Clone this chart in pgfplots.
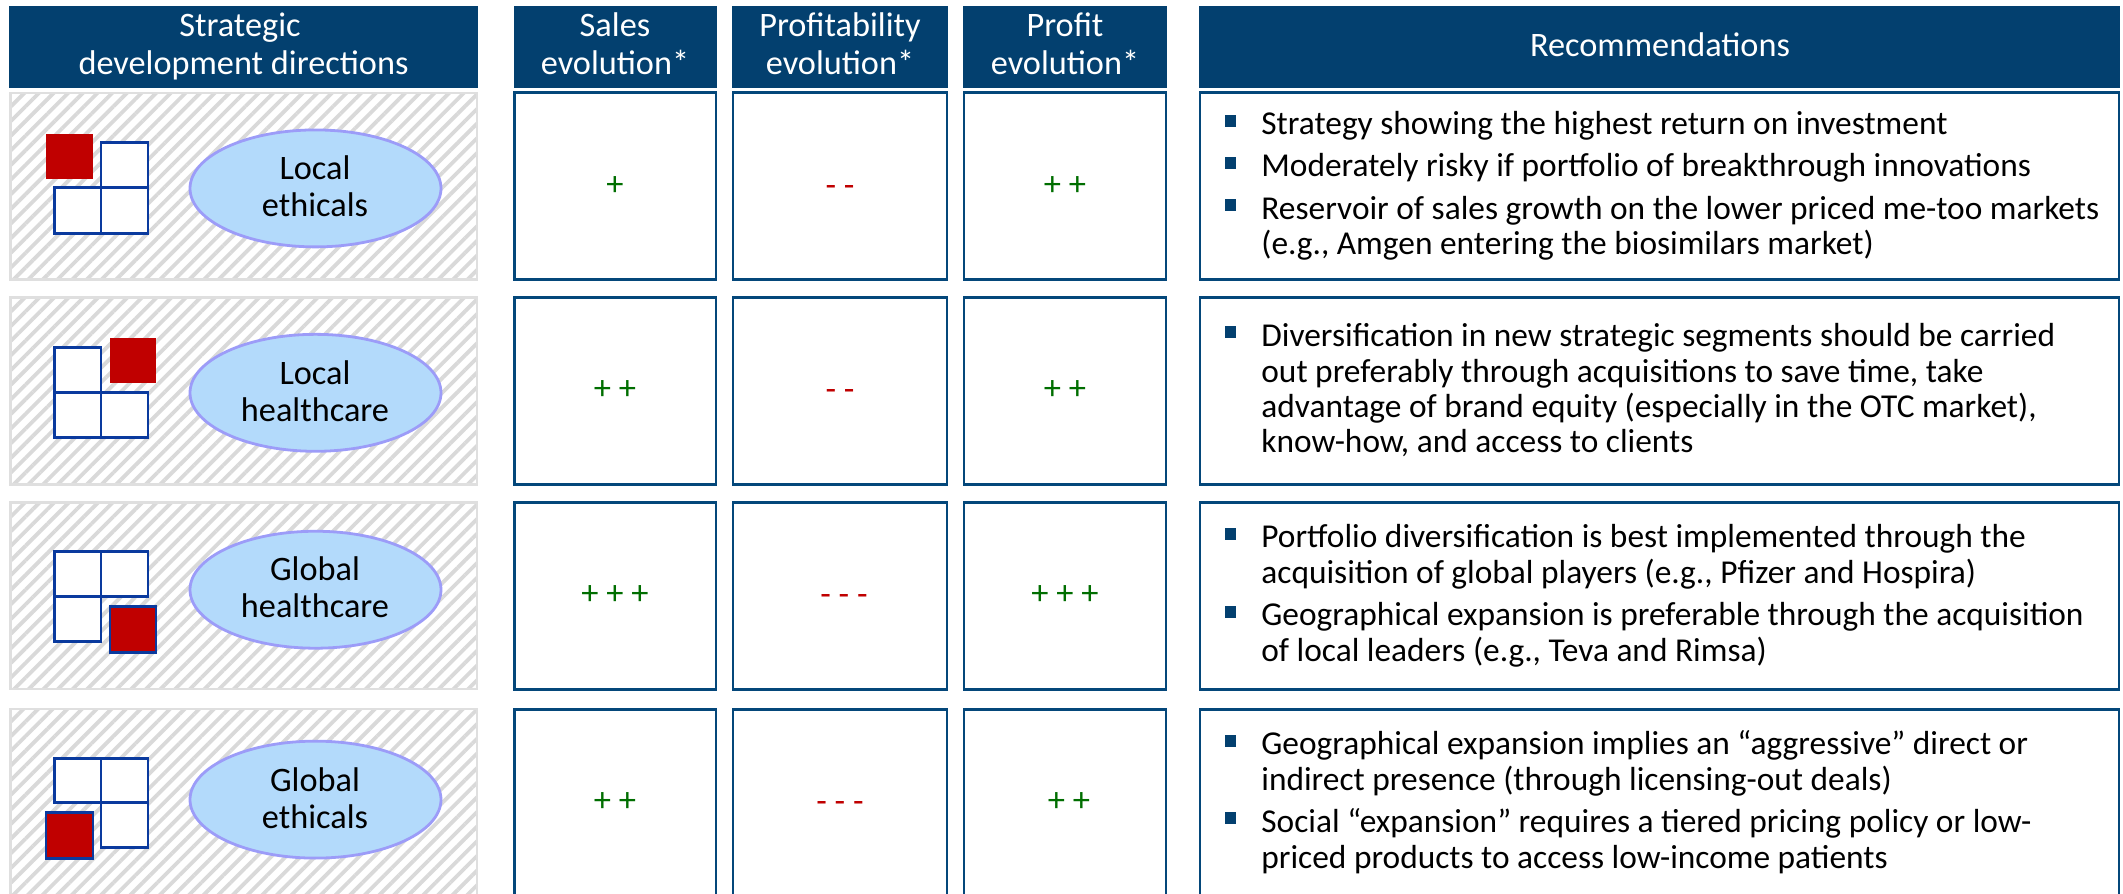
\documentclass[border=0pt]{standalone}
\usepackage{fontspec}
\setmainfont{Carlito}
\usepackage{pgfplots}
\pgfplotsset{compat=1.18}
\usetikzlibrary{patterns.meta}
\definecolor{hdr}{HTML}{03406F}
\definecolor{bx}{HTML}{04477A}
\definecolor{gridb}{HTML}{0A3A9E}
\definecolor{redq}{HTML}{C00000}
\definecolor{plusg}{HTML}{006E00}
\definecolor{ellf}{HTML}{B3DAFB}
\definecolor{elld}{HTML}{9C9CF8}
\definecolor{hatch}{HTML}{D9D9D9}
\newcommand{\Rect}[5]{\addplot[forget plot,mark=none,#5] coordinates {(#1,#2)(#3,#2)(#3,#4)(#1,#4)} --cycle;}
\newcommand{\HeadFont}{\fontsize{17.15bp}{18bp}\selectfont}
\newcommand{\BodyFont}{\fontsize{16.7bp}{18bp}\selectfont}
\newcommand{\MarkFont}{\fontsize{17.25bp}{18bp}\selectfont}
\newcommand{\Hd}[3]{\node[anchor=base,text=white,inner sep=0pt,font=\HeadFont] at (axis cs:#1,#2) {#3};}
\newcommand{\Ov}[3]{\node[anchor=base,text=black,inner sep=0pt,font=\HeadFont] at (axis cs:#1,#2) {#3};}
\newcommand{\Tx}[2]{\node[anchor=base west,text=black,inner sep=0pt,font=\BodyFont] at (axis cs:1261,#1) {#2};}
\newcommand{\Bu}[1]{\Rect{1224.5}{#1}{1236}{\the\numexpr#1+12\relax}{fill=hdr,draw=none}}
\newcommand{\Pl}[3]{\node[anchor=center,text=plusg,inner sep=0pt,font=\MarkFont] at (axis cs:#1,#2) {#3};}
\newcommand{\Mi}[3]{\node[anchor=center,text=redq,inner sep=0pt,font=\MarkFont] at (axis cs:#1,#2) {#3};}
\newcommand{\Panel}[2]{%
  \Rect{10.5}{#1}{477}{#2}{fill=white,draw=none}
  \addplot[forget plot,mark=none,draw=none,pattern={Lines[angle=45,distance=5.2pt,line width=1.9pt]},pattern color=hatch] coordinates {(10.5,#1)(477,#1)(477,#2)(10.5,#2)} --cycle;
  \Rect{10.5}{#1}{477}{#2}{draw=hatch!85!white,line width=1.3pt}
  \Rect{514.5}{#1}{716}{#2}{draw=bx,fill=white,line width=1.5pt}
  \Rect{733}{#1}{947}{#2}{draw=bx,fill=white,line width=1.5pt}
  \Rect{964}{#1}{1166}{#2}{draw=bx,fill=white,line width=1.5pt}
  \Rect{1200}{#1}{2119}{#2}{draw=bx,fill=white,line width=1.5pt}
}
\newcommand{\Ell}[1]{\draw[draw=elld,fill=ellf,line width=1.4pt] (axis cs:315.5,#1) ellipse [x radius=125.5,y radius=58.5];}
\newcommand{\Cell}[4]{\Rect{#1}{#2}{#3}{#4}{draw=gridb,fill=white,line width=1.5pt}}
\begin{document}
\begin{tikzpicture}
\useasboundingbox (0,0) rectangle (1062bp,447bp);
\clip (0,0) rectangle (1062bp,447bp);
\begin{axis}[
  scale only axis,width=1062bp,height=447bp,
  xmin=0,xmax=2123,ymin=0,ymax=894,y dir=reverse,
  hide axis,clip=true]
\Rect{9}{6}{478}{88}{fill=hdr,draw=none}
\Rect{513.5}{6}{717}{88}{fill=hdr,draw=none}
\Rect{732}{6}{948}{88}{fill=hdr,draw=none}
\Rect{963}{6}{1167}{88}{fill=hdr,draw=none}
\Rect{1199}{6}{2120}{88}{fill=hdr,draw=none}
\Hd{240}{37}{Strategic}
\Hd{243.5}{75}{development directions}
\Hd{615}{37}{Sales}
\Hd{615}{75}{evolution*}
\Hd{840}{37}{Profitability}
\Hd{840}{75}{evolution*}
\Hd{1065}{37}{Profit}
\Hd{1065}{75}{evolution*}
\Hd{1660}{57}{Recommendations}
\Panel{93}{279.5}
\Panel{297.5}{484.5}
\Panel{502.5}{689.5}
\Panel{709.5}{900}
\Cell{101}{143}{148}{188}
\Cell{54.5}{188}{101}{234}
\Cell{101}{188}{148}{234}
\Rect{46}{134}{93}{179}{fill=redq,draw=none}
\Ell{188.5}
\Ov{315}{180}{Local}
\Ov{315}{217}{ethicals}
\Cell{54.5}{348}{101}{393}
\Cell{54.5}{393}{101}{438}
\Cell{101}{393}{148}{438}
\Rect{110}{338}{156}{383}{fill=redq,draw=none}
\Ell{393}
\Ov{315}{385}{Local}
\Ov{315}{422}{healthcare}
\Cell{54.5}{552}{101}{597}
\Cell{101}{552}{148}{597}
\Cell{54.5}{597}{101}{642}
\Rect{110}{607}{156}{653}{fill=redq,draw=gridb,line width=1.5pt}
\Ell{590}
\Ov{315}{581}{Global}
\Ov{315}{618}{healthcare}
\Cell{54.5}{759}{101}{803}
\Cell{101}{759}{148}{803}
\Cell{101}{803}{148}{848}
\Rect{46}{813}{93}{859}{fill=redq,draw=gridb,line width=1.5pt}
\Ell{800}
\Ov{315}{792}{Global}
\Ov{315}{829}{ethicals}
\Pl{615}{186}{+}
\Mi{840}{191}{- -}
\Pl{1065}{186}{+ +}
\Pl{615}{390}{+ +}
\Mi{840}{395}{- -}
\Pl{1065}{390}{+ +}
\Pl{615}{595}{+ + +}
\Mi{844}{600}{- - -}
\Pl{1065}{595}{+ + +}
\Pl{615}{802}{+ +}
\Mi{840}{807}{- - -}
\Pl{1069}{802}{+ +}
\Bu{115}\Bu{157}\Bu{199}
\Tx{135}{Strategy showing the highest return on investment}
\Tx{177}{Moderately risky if portfolio of breakthrough innovations}
\Tx{220}{Reservoir of sales growth on the lower priced me-too markets}
\Tx{255}{(e.g., Amgen entering the biosimilars market)}
\Bu{326}
\Tx{347}{Diversification in new strategic segments should be carried}
\Tx{383}{out preferably through acquisitions to save time, take}
\Tx{418}{advantage of brand equity (especially in the OTC market),}
\Tx{453}{know-how, and access to clients}
\Bu{528}
\Tx{548}{Portfolio diversification is best implemented through the}
\Tx{584}{acquisition of global players (e.g., Pfizer and Hospira)}
\Bu{606}
\Tx{626}{Geographical expansion is preferable through the acquisition}
\Tx{662}{of local leaders (e.g., Teva and Rimsa)}
\Bu{735}
\Tx{755}{Geographical expansion implies an “aggressive” direct or}
\Tx{791}{indirect presence (through licensing-out deals)}
\Bu{812}
\Tx{833}{Social “expansion” requires a tiered pricing policy or low-}
\Tx{869}{priced products to access low-income patients}
\end{axis}
\end{tikzpicture}
\end{document}
